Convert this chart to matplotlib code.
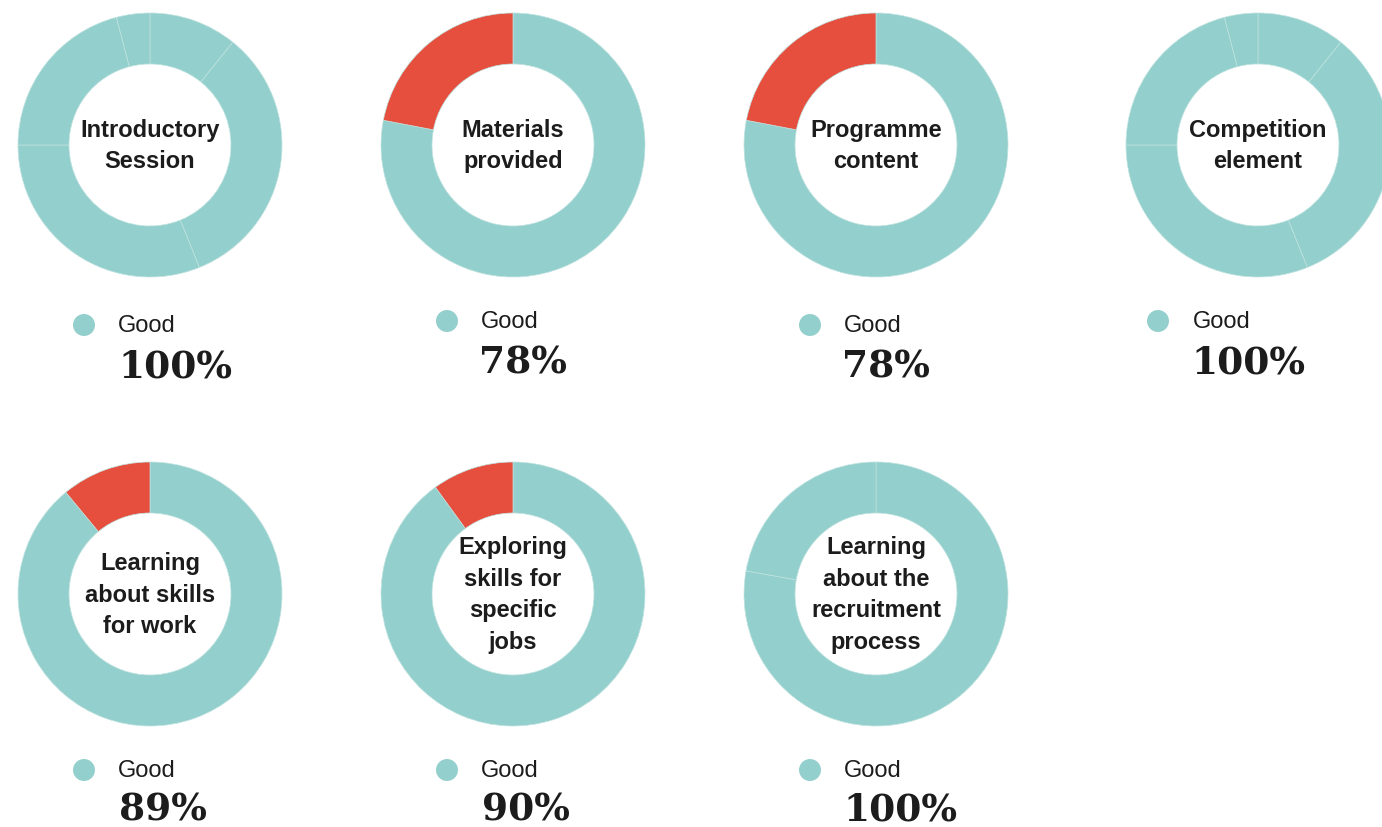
import matplotlib
matplotlib.use('Agg')
import matplotlib.pyplot as plt

W, H = 1382, 828

# dati: nome della domanda, % Good, fette (in senso orario da ore 12) e tipo fetta
titles = ['Introductory\nSession', 'Materials\nprovided', 'Programme\ncontent', 'Competition\nelement',
          'Learning\nabout skills\nfor work', 'Exploring\nskills for\nspecific\njobs',
          'Learning\nabout the\nrecruitment\nprocess']
good_pct = [100, 78, 78, 100, 89, 90, 100]
slices = [[10.8, 33.1, 31.1, 20.9, 4.1],
          [78, 22],
          [78, 22],
          [10.8, 33.1, 31.1, 20.9, 4.1],
          [89, 11],
          [90, 10],
          [77.8, 22.2]]
slice_good = [[1, 1, 1, 1, 1],
              [1, 0],
              [1, 0],
              [1, 1, 1, 1, 1],
              [1, 0],
              [1, 0],
              [1, 1]]

teal = '#93cfcc'
red = '#e64e3d'
dark = '#1c1c1c'

# posizioni in pixel (y dall'alto)
centers = [(150, 146), (513, 146), (876, 146), (1258, 146), (150, 595), (513, 595), (876, 595)]
legend_dot = [(84, 326), (447, 322), (810, 326), (1158, 322), (84, 771), (447, 771), (810, 771)]
good_x = [118, 481, 844, 1193, 118, 481, 844]
pct_pos = [(175, 378), (523, 373), (886, 378), (1248, 373), (163, 821), (526, 821), (900, 821)]
R = 132
r_in = 81

fig = plt.figure(figsize=(W / 100, H / 100), dpi=100)
ax = fig.add_axes([0, 0, 1, 1])

for i in range(len(titles)):
    cx, cy = centers[i]
    cols = [teal if g else red for g in slice_good[i]]
    wedges, _ = ax.pie(slices[i], colors=cols, startangle=90, counterclock=False,
                       radius=R, center=(cx, H - cy), frame=True,
                       wedgeprops=dict(width=R - r_in, edgecolor='#bfe3e0', linewidth=0.5))
    ax.text(cx, H - cy, titles[i], ha='center', va='center', fontsize=17, fontweight='bold',
            family='Liberation Sans', color=dark, linespacing=1.47)

    dx, dy = legend_dot[i]
    ax.scatter([dx], [H - dy], s=250, color=teal, edgecolors='none', zorder=3)
    ax.text(good_x[i], H - dy, 'Good', ha='left', va='center', fontsize=17,
            family='Liberation Sans', color=dark)
    px, py = pct_pos[i]
    ax.text(px, H - py, str(good_pct[i]) + '%', ha='center', va='baseline', fontsize=27,
            fontweight='bold', family='DejaVu Serif', color=dark)

ax.set_xlim(0, W)
ax.set_ylim(0, H)
ax.set_aspect('equal')
ax.axis('off')

fig.savefig('out.png', dpi=100, facecolor='white')
